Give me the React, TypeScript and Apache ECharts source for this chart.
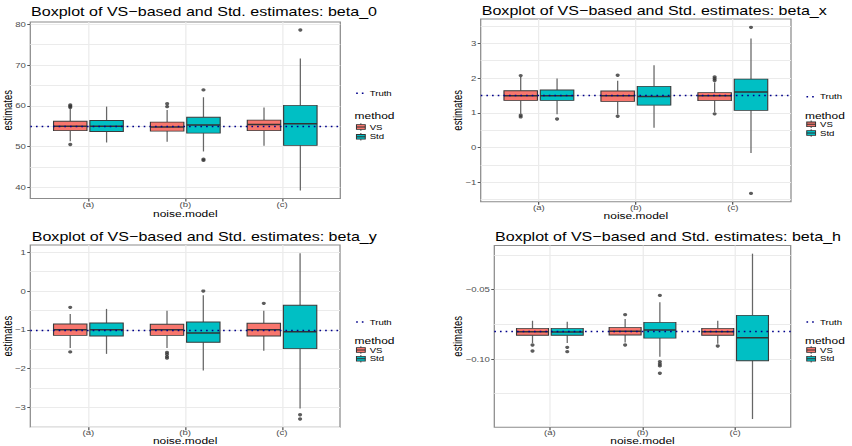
import React, { useEffect, useRef } from 'react';
import * as echarts from 'echarts';

// The reference picture is stretched horizontally; the chart is drawn narrower and stretched back.
const S = 1.26;
const W = 852 / S;
const H = 446;
const FONT = 'Liberation Sans, Arial, Helvetica, sans-serif';

const categories = ['(a)', '(b)', '(c)'];
const methods = ['VS', 'Std'];
const titles = [
  'Boxplot of VS−based and Std. estimates: beta_0',
  'Boxplot of VS−based and Std. estimates: beta_x',
  'Boxplot of VS−based and Std. estimates: beta_y',
  'Boxplot of VS−based and Std. estimates: beta_h',
];
const truthValues = [55, 1.5, -1, -0.08];

// [lower whisker, Q1, median, Q3, upper whisker] per noise model
const b0VS = [[51.3, 53.9, 55.0, 56.2, 59.3], [51.2, 53.8, 54.8, 56.0, 59.0], [50.2, 53.9, 55.4, 56.5, 59.6]];
const b0Std = [[51.0, 53.7, 55.0, 56.4, 59.8], [48.8, 53.3, 55.3, 57.2, 62.1], [39.2, 50.3, 55.6, 60.1, 71.6]];
const b0VSOut = [[60.2, 59.9, 59.6, 50.5], [60.5, 59.8], []];
const b0StdOut = [[], [63.9, 46.9, 46.6], [78.6]];

const bxVS = [[0.97, 1.356, 1.49, 1.635, 2.03], [0.95, 1.327, 1.49, 1.625, 1.92], [1.02, 1.35, 1.49, 1.58, 1.87]];
const bxStd = [[0.96, 1.356, 1.49, 1.654, 1.99], [0.57, 1.22, 1.47, 1.76, 2.37], [-0.16, 1.07, 1.6, 1.97, 3.14]];
const bxVSOut = [[2.07, 0.93, 0.88], [2.08, 0.9], [2.03, 1.98, 1.93, 0.97]];
const bxStdOut = [[0.82], [], [3.46, -1.32]];

const byVS = [[-1.47, -1.142, -0.996, -0.849, -0.59], [-1.47, -1.142, -1.0, -0.858, -0.505], [-1.54, -1.159, -1.0, -0.832, -0.505]];
const byStd = [[-1.62, -1.159, -1.0, -0.824, -0.46], [-2.05, -1.32, -1.08, -0.8, -0.11], [-3.03, -1.486, -1.047, -0.368, 0.974]];
const byVSOut = [[-0.42, -1.57], [-1.58, -1.63, -1.69, -1.73], [-0.316]];
const byStdOut = [[], [0.0], [-3.19, -3.3]];

const bhVS = [[-0.0885, -0.0829, -0.0803, -0.0779, -0.0724], [-0.088, -0.0827, -0.08, -0.0772, -0.0712], [-0.089, -0.0829, -0.0803, -0.0779, -0.0724]];
const bhStd = [[-0.0885, -0.0829, -0.0805, -0.0779, -0.0731], [-0.0983, -0.0849, -0.0791, -0.0736, -0.0591], [-0.1433, -0.1012, -0.0846, -0.0685, -0.024]];
const bhVSOut = [[-0.0899, -0.0942], [-0.068, -0.0899], [-0.0906]];
const bhStdOut = [[-0.0916, -0.0947], [-0.0541, -0.1019, -0.1036, -0.105, -0.1103], []];

const b0Major = [40, 50, 60, 70, 80];
const b0Minor = [45, 55, 65, 75];
const bxMajor = [-1, 0, 1, 2, 3];
const bxMinor = [-1.5, -0.5, 0.5, 1.5, 2.5, 3.5];
const byMajor = [-3, -2, -1, 0, 1];
const byMinor = [-3.5, -2.5, -1.5, -0.5, 0.5];
const bhMajor = [-0.1, -0.05];
const bhMinor = [-0.125, -0.075, -0.025];
const tickDecimals = [0, 0, 0, 2];

const xTicks = [1, 2, 3];

const VS_COLOR = '#F8766D';
const STD_COLOR = '#00BFC4';
const TRUTH_COLOR = '#00008B';

// layout in reference pixels (x is divided by S)
const layout = [
  { L: 30.3, R: 340.3, T: 22, B: 198.6, tx: 31, ty: 12, yx: 7.5, xy: 213.5, xm: 2.2, lx: 355, rows: [93.2, 115.7, 127, 136.8] },
  { L: 480.7, R: 791, T: 19, B: 201.7, tx: 481.7, ty: 10.8, yx: 458, xy: 215.2, xm: 1.5, lx: 805.3, rows: [96.7, 115, 124.3, 133] },
  { L: 30.3, R: 340, T: 245, B: 427.3, tx: 31.7, ty: 236.2, yx: 7.5, xy: 440.7, xm: 1.0, lx: 355, rows: [322, 340.7, 350, 358.7] },
  { L: 494.3, R: 790.7, T: 245.4, B: 427.3, tx: 495, ty: 236.2, yx: 458, xy: 440.7, xm: 1.0, lx: 805.3, rows: [322, 340.7, 350, 358.7] },
];

const DODGE = 0.1875;
const BOX_W = 0.345;

const panels = [
  { vs: b0VS, std: b0Std, vsOut: b0VSOut, stdOut: b0StdOut, major: b0Major, minor: b0Minor },
  { vs: bxVS, std: bxStd, vsOut: bxVSOut, stdOut: bxStdOut, major: bxMajor, minor: bxMinor },
  { vs: byVS, std: byStd, vsOut: byVSOut, stdOut: byStdOut, major: byMajor, minor: byMinor },
  { vs: bhVS, std: bhStd, vsOut: bhVSOut, stdOut: bhStdOut, major: bhMajor, minor: bhMinor },
];

function limits(k: number): [number, number] {
  const p = panels[k];
  const vals = [...p.vs.flat(), ...p.std.flat(), ...p.vsOut.flat(), ...p.stdOut.flat(), truthValues[k]];
  const lo = Math.min(...vals);
  const hi = Math.max(...vals);
  const pad = (hi - lo) * 0.05;
  return [lo - pad, hi + pad];
}

function boxRenderer(fill: string) {
  return (params: any, api: any) => {
    const x = api.value(0);
    const pLo = api.coord([x, api.value(1)]);
    const pQ1 = api.coord([x, api.value(2)]);
    const pMed = api.coord([x, api.value(3)]);
    const pQ3 = api.coord([x, api.value(4)]);
    const pHi = api.coord([x, api.value(5)]);
    const w = api.size([BOX_W, 0])[0];
    const cx = pMed[0];
    return {
      type: 'group',
      children: [
        { type: 'line', shape: { x1: cx, y1: pHi[1], x2: cx, y2: pQ3[1] }, style: { stroke: '#666', lineWidth: 1 } },
        { type: 'line', shape: { x1: cx, y1: pQ1[1], x2: cx, y2: pLo[1] }, style: { stroke: '#666', lineWidth: 1 } },
        { type: 'rect', shape: { x: cx - w / 2, y: pQ3[1], width: w, height: pQ1[1] - pQ3[1] }, style: { fill, stroke: '#3a3a3a', lineWidth: 0.9 } },
        { type: 'line', shape: { x1: cx - w / 2, y1: pMed[1], x2: cx + w / 2, y2: pMed[1] }, style: { stroke: '#333', lineWidth: 1.5 } },
      ],
    };
  };
}

function fmt(v: number, dec: number) {
  return Number(v).toFixed(dec).replace('-', '−');
}

function txt(x: number, y: number, text: string, fontSize: number, fill = '#000', align = 'left', rotation = 0) {
  return {
    type: 'text',
    x,
    y,
    rotation,
    silent: true,
    style: { text, fontSize, fontFamily: FONT, fill, align, verticalAlign: 'middle', textAlign: align, textVerticalAlign: 'middle' },
  };
}

function buildOption() {
  const grid: any[] = [];
  const xAxis: any[] = [];
  const yAxis: any[] = [];
  const series: any[] = [];
  const graphic: any[] = [];
  const tickColor = '#555';
  const labelColor = '#4d4d4d';

  panels.forEach((p, k) => {
    const lay = layout[k];
    const [mn, mx] = limits(k);
    grid.push({
      left: lay.L / S,
      top: lay.T,
      width: (lay.R - lay.L) / S,
      height: lay.B - lay.T,
      show: true,
      borderColor: '#8c8c8c',
      borderWidth: 1,
      backgroundColor: '#fff',
      outerBoundsMode: 'none',
    });
    xAxis.push({
      type: 'value',
      gridIndex: k,
      position: 'bottom',
      min: 0.4,
      max: 3.6,
      axisLine: { show: false, onZero: false },
      axisTick: { show: true, length: 3, customValues: xTicks, lineStyle: { color: tickColor, width: 1 } },
      axisLabel: {
        customValues: xTicks,
        formatter: (v: number) => categories[Math.round(v) - 1],
        fontSize: 7.6,
        fontFamily: FONT,
        color: labelColor,
        margin: lay.xm,
      },
      splitLine: { show: true, lineStyle: { color: '#ebebeb', width: 1 } },
    });
    yAxis.push({
      type: 'value',
      gridIndex: k,
      position: 'left',
      min: mn,
      max: mx,
      axisLine: { show: false, onZero: false },
      axisTick: { show: false, customValues: [...p.major, ...p.minor] },
      axisLabel: { show: false },
      splitLine: { show: true, lineStyle: { color: '#ebebeb', width: 1 } },
    });
    yAxis.push({
      type: 'value',
      gridIndex: k,
      position: 'left',
      offset: 0,
      min: mn,
      max: mx,
      axisLine: { show: false, onZero: false },
      axisTick: { show: true, length: 2.4, customValues: p.major, lineStyle: { color: tickColor, width: 1 } },
      axisLabel: {
        customValues: p.major,
        formatter: (v: number) => fmt(v, tickDecimals[k]),
        fontSize: 7.6,
        fontFamily: FONT,
        color: labelColor,
        margin: 3.5,
      },
      splitLine: { show: false },
    });

    series.push({
      type: 'custom',
      name: methods[0],
      xAxisIndex: k,
      yAxisIndex: 2 * k,
      z: 2,
      encode: { x: 0, y: [1, 2, 3, 4, 5] },
      renderItem: boxRenderer(VS_COLOR),
      data: p.vs.map((s, i) => [i + 1 - DODGE, ...s]),
    });
    series.push({
      type: 'custom',
      name: methods[1],
      xAxisIndex: k,
      yAxisIndex: 2 * k,
      z: 2,
      encode: { x: 0, y: [1, 2, 3, 4, 5] },
      renderItem: boxRenderer(STD_COLOR),
      data: p.std.map((s, i) => [i + 1 + DODGE, ...s]),
    });
    const outliers = [
      ...p.vsOut.flatMap((arr, i) => arr.map((v) => [i + 1 - DODGE, v])),
      ...p.stdOut.flatMap((arr, i) => arr.map((v) => [i + 1 + DODGE, v])),
    ];
    series.push({
      type: 'scatter',
      name: 'outliers',
      xAxisIndex: k,
      yAxisIndex: 2 * k,
      z: 4,
      symbol: 'circle',
      symbolSize: 3.3,
      itemStyle: { color: '#333' },
      silent: true,
      data: outliers,
      markLine: {
        silent: true,
        symbol: ['none', 'none'],
        label: { show: false },
        lineStyle: { color: TRUTH_COLOR, type: [1.3, 3.2], width: 1.35 },
        data: [{ yAxis: truthValues[k] }],
      },
    });

    // titles
    graphic.push(txt(lay.tx / S, lay.ty, titles[k], 12.75));
    graphic.push(txt(lay.yx / S, (lay.T + lay.B) / 2, 'estimates', 9.5, '#000', 'center', Math.PI / 2));
    graphic.push(txt(((lay.L + lay.R) / 2) / S, lay.xy, 'noise.model', 9.5, '#000', 'center'));

    // legend
    const kx = lay.lx / S;
    const kw = 9.3;
    const tx = kx + kw + 2.4;
    const [rT, rM, rV, rS] = lay.rows;
    graphic.push({
      type: 'line',
      silent: true,
      shape: { x1: kx + 0.1 * kw, y1: rT, x2: kx + 0.9 * kw, y2: rT },
      style: { stroke: TRUTH_COLOR, lineWidth: 1.35, lineDash: [1.3, 3.2] },
    });
    graphic.push(txt(tx, rT, 'Truth', 7.6));
    graphic.push(txt(kx - 0.3, rM, 'method', 9.5));
    [
      [rV, VS_COLOR, methods[0]],
      [rS, STD_COLOR, methods[1]],
    ].forEach(([cy, fill, label]: any) => {
      graphic.push({
        type: 'line',
        silent: true,
        shape: { x1: kx + kw / 2, y1: cy - 0.4 * kw, x2: kx + kw / 2, y2: cy + 0.4 * kw },
        style: { stroke: '#444', lineWidth: 0.8 },
      });
      graphic.push({
        type: 'rect',
        silent: true,
        shape: { x: kx + 0.125 * kw, y: cy - 0.25 * kw, width: 0.75 * kw, height: 0.5 * kw },
        style: { fill, stroke: '#333', lineWidth: 0.8 },
      });
      graphic.push({
        type: 'line',
        silent: true,
        shape: { x1: kx + 0.125 * kw, y1: cy, x2: kx + 0.875 * kw, y2: cy },
        style: { stroke: '#333', lineWidth: 1 },
      });
      graphic.push(txt(tx, cy, label, 7.6));
    });
  });

  return {
    animation: false,
    backgroundColor: '#fff',
    grid,
    xAxis,
    yAxis,
    series,
    graphic,
  };
}

export default function App() {
  const ref = useRef<HTMLDivElement>(null);
  useEffect(() => {
    if (!ref.current) return;
    const chart = echarts.init(ref.current, undefined, { renderer: 'svg', width: W, height: H });
    chart.setOption(buildOption() as any);
    return () => chart.dispose();
  }, []);
  return (
    <div
      ref={ref}
      style={{
        position: 'absolute',
        left: 0,
        top: 0,
        width: W,
        height: H,
        transform: `scaleX(${S})`,
        transformOrigin: '0 0',
        background: '#fff',
      }}
    />
  );
}
